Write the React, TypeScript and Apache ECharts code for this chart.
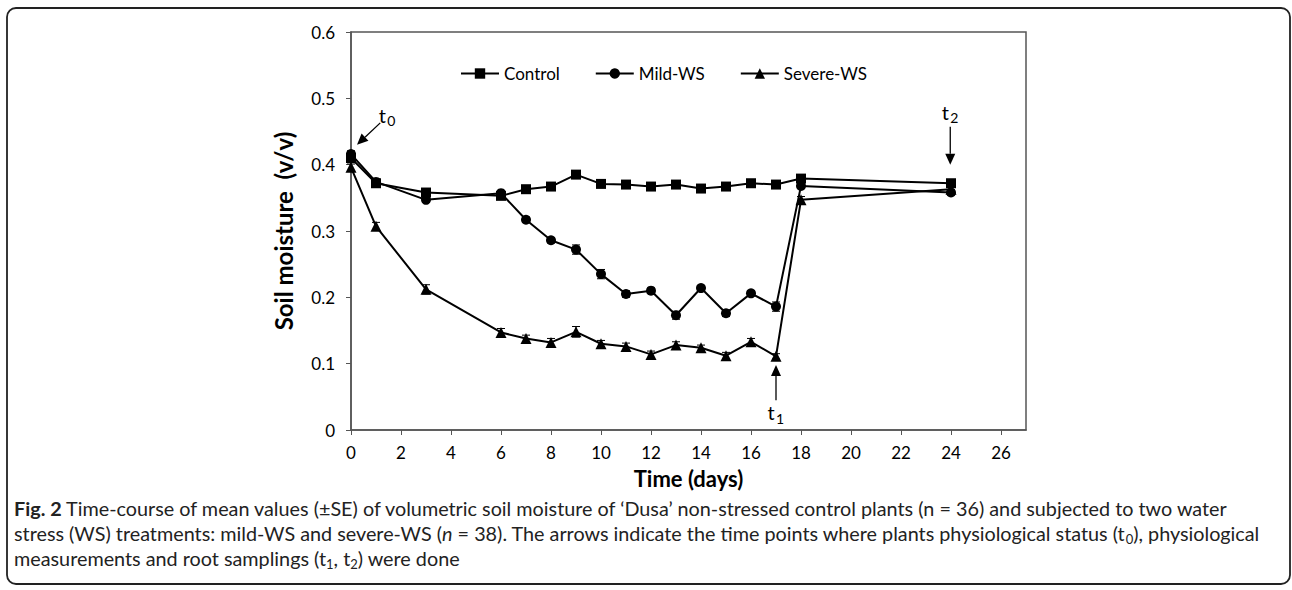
import React, { useEffect, useRef } from "react";
import * as echarts from "echarts";

const days = [0, 1, 3, 6, 7, 8, 9, 10, 11, 12, 13, 14, 15, 16, 17, 18, 24];
const control = [0.41, 0.372, 0.358, 0.353, 0.363, 0.367, 0.385, 0.371, 0.37, 0.367, 0.37, 0.364, 0.367, 0.372, 0.37, 0.379, 0.372];
const mildWS = [0.416, 0.374, 0.347, 0.357, 0.317, 0.286, 0.272, 0.235, 0.205, 0.21, 0.173, 0.214, 0.176, 0.206, 0.186, 0.368, 0.358];
const severeWS = [0.396, 0.307, 0.212, 0.147, 0.138, 0.132, 0.148, 0.13, 0.126, 0.114, 0.128, 0.124, 0.112, 0.133, 0.111, 0.347, 0.363];
const controlSE = [0.004, 0.003, 0.005, 0.003, 0.003, 0.003, 0.003, 0.003, 0.003, 0.003, 0.003, 0.003, 0.003, 0.003, 0.003, 0.003, 0.003];
const mildSE = [0.005, 0.004, 0.004, 0.004, 0.004, 0.004, 0.007, 0.007, 0.005, 0.004, 0.006, 0.004, 0.005, 0.004, 0.007, 0.004, 0.004];
const severeSE = [0.005, 0.006, 0.007, 0.006, 0.005, 0.006, 0.008, 0.005, 0.005, 0.005, 0.005, 0.004, 0.005, 0.005, 0.004, 0.005, 0.004];
const xTicks = [0, 2, 4, 6, 8, 10, 12, 14, 16, 18, 20, 22, 24, 26];
const seriesNames = ["Control", "Mild-WS", "Severe-WS"];
const symbols = ["rect", "circle", "triangle"];

// annotation arrows in data coordinates: [tail, tip, labelPos, subscript]
const annotations: [number[], number[], number[], string][] = [
  [[1.17, 0.463], [0.24, 0.43], [1.45, 0.475], "0"],
  [[17, 0.045], [17, 0.098], [17, 0.027], "1"],
  [[23.97, 0.457], [23.97, 0.4], [23.97, 0.48], "2"],
];

const FONT = "Lato";

export default function App() {
  const ref = useRef<HTMLDivElement>(null);
  useEffect(() => {
    const chart = echarts.init(ref.current!, null, { renderer: "svg" });
    const values = [control, mildWS, severeWS];
    const ses = [controlSE, mildSE, severeSE];
    const lineSeries = values.map((v, i) => ({
      name: seriesNames[i],
      type: "line",
      data: days.map((d, j) => [d, v[j]]),
      symbol: symbols[i],
      symbolSize: i === 2 ? 11 : 10,
      lineStyle: { color: "#000", width: 2 },
      itemStyle: { color: "#000" },
      z: 3,
    }));
    const errSeries = values.map((v, i) => ({
      type: "custom",
      name: seriesNames[i] + " SE",
      data: days.map((d, j) => [d, v[j], ses[i][j]]),
      z: 4,
      renderItem: (params: any, api: any) => {
        const x = api.value(0), y = api.value(1), e = api.value(2);
        const hi = api.coord([x, y + e]);
        const lo = api.coord([x, y - e]);
        const w = 4;
        const st = { stroke: "#000", lineWidth: 1 };
        return {
          type: "group",
          children: [
            { type: "line", shape: { x1: hi[0], y1: hi[1], x2: lo[0], y2: lo[1] }, style: st },
            { type: "line", shape: { x1: hi[0] - w, y1: hi[1], x2: hi[0] + w, y2: hi[1] }, style: st },
            { type: "line", shape: { x1: lo[0] - w, y1: lo[1], x2: lo[0] + w, y2: lo[1] }, style: st },
          ],
        };
      },
    }));

    const sub = { fontFamily: FONT, fontSize: 13, lineHeight: 13, verticalAlign: "bottom", fill: "#222" };
    const base = { fontFamily: FONT, fontSize: 19.8, lineHeight: 24, fill: "#222" };

    chart.setOption({
      animation: false,
      backgroundColor: "#fff",
      grid: { left: 351, top: 32, right: 266, bottom: 160, containLabel: false },
      legend: {
        data: seriesNames,
        left: 460,
        top: 65,
        padding: 0,
        itemWidth: 38,
        itemHeight: 13,
        itemGap: 35,
        textStyle: { fontFamily: FONT, fontSize: 17, color: "#000" },
      },
      xAxis: {
        type: "value",
        min: 0,
        max: 27,
        interval: 2,
        name: "Time (days)",
        nameLocation: "middle",
        nameGap: 37,
        nameTextStyle: { fontFamily: FONT, fontSize: 22, fontWeight: "bold", color: "#000" },
        axisLine: { show: true, lineStyle: { color: "#555", width: 1.5 } },
        axisTick: { show: true, inside: false, length: 5, lineStyle: { color: "#555" }, customValues: xTicks },
        axisLabel: { fontFamily: FONT, fontSize: 17, color: "#000", margin: 14, customValues: xTicks },
        splitLine: { show: false },
      },
      yAxis: {
        type: "value",
        min: 0,
        max: 0.6,
        interval: 0.1,
        name: "Soil moisture  (v/v)",
        nameLocation: "middle",
        nameGap: 56,
        nameRotate: 90,
        nameTextStyle: { fontFamily: FONT, fontSize: 24, fontWeight: "bold", color: "#000" },
        axisLine: { show: true, lineStyle: { color: "#555", width: 1.5 } },
        axisTick: { show: true, inside: false, length: 5, lineStyle: { color: "#555" } },
        axisLabel: {
          fontFamily: FONT,
          fontSize: 17,
          color: "#000",
          margin: 16,
          formatter: (v: number) => (v === 0 ? "0" : v.toFixed(1)),
        },
        splitLine: { show: false },
      },
      series: [...lineSeries, ...errSeries],
    });

    const gridRect = {
      x: 351, y: 32, w: 1292 - 266 - 351, h: 590 - 160 - 32,
    };

    const graphics: any[] = [
      {
        type: "rect",
        shape: { x: 7, y: 8, width: 1283, height: 576, r: 9 },
        style: { fill: "none", stroke: "#222", lineWidth: 1.8 },
        z: 0,
      },
      {
        type: "rect",
        shape: { x: gridRect.x, y: gridRect.y, width: gridRect.w, height: gridRect.h },
        style: { fill: "none", stroke: "#555", lineWidth: 1.5 },
        z: 1,
      },
      {
        type: "text",
        x: 14,
        y: 496,
        style: {
          text: "{b|Fig. 2} Time-course of mean values (±SE) of volumetric soil moisture of ‘Dusa’ non-stressed control plants (n = 36) and subjected to two water",
          ...base,
          rich: { b: { ...base, fontWeight: "bold" } },
        },
      },
      {
        type: "text",
        x: 14,
        y: 521,
        style: {
          text: "stress (WS) treatments: mild-WS and severe-WS ({i|n} = 38). The arrows indicate the time points where plants physiological status (t{s|0}), physiological",
          ...base,
          rich: { i: { ...base, fontStyle: "italic" }, s: sub },
        },
      },
      {
        type: "text",
        x: 14,
        y: 546,
        style: {
          text: "measurements and root samplings (t{s|1}, t{s|2}) were done",
          ...base,
          rich: { s: sub },
        },
      },
    ];

    annotations.forEach(([tail, tip, lab, s]) => {
      const a = chart.convertToPixel({ gridIndex: 0 }, tail) as number[];
      const b = chart.convertToPixel({ gridIndex: 0 }, tip) as number[];
      const l = chart.convertToPixel({ gridIndex: 0 }, lab) as number[];
      const dx = b[0] - a[0], dy = b[1] - a[1];
      const len = Math.sqrt(dx * dx + dy * dy);
      const ux = dx / len, uy = dy / len;
      const hl = 11, hw = 5;
      const bx = b[0] - ux * hl, by = b[1] - uy * hl;
      graphics.push({
        type: "line",
        shape: { x1: a[0], y1: a[1], x2: bx, y2: by },
        style: { stroke: "#000", lineWidth: 1.3 },
        z: 10,
      });
      graphics.push({
        type: "polygon",
        shape: {
          points: [
            [b[0], b[1]],
            [bx - uy * hw, by + ux * hw],
            [bx + uy * hw, by - ux * hw],
          ],
        },
        style: { fill: "#000" },
        z: 10,
      });
      graphics.push({
        type: "text",
        x: l[0] - 5,
        y: l[1],
        style: { text: "t", fontFamily: FONT, fontSize: 20, fill: "#000", align: "center", verticalAlign: "middle" },
        z: 10,
      });
      graphics.push({
        type: "text",
        x: l[0] + 4,
        y: l[1] + 6,
        style: { text: s, fontFamily: FONT, fontSize: 14, fill: "#000", align: "center", verticalAlign: "middle" },
        z: 10,
      });
    });

    chart.setOption({ graphic: graphics });

    return () => chart.dispose();
  }, []);
  return (
    <div
      ref={ref}
      style={{ position: "fixed", left: 0, top: 0, width: 1292, height: 590, background: "#fff" }}
    />
  );
}
